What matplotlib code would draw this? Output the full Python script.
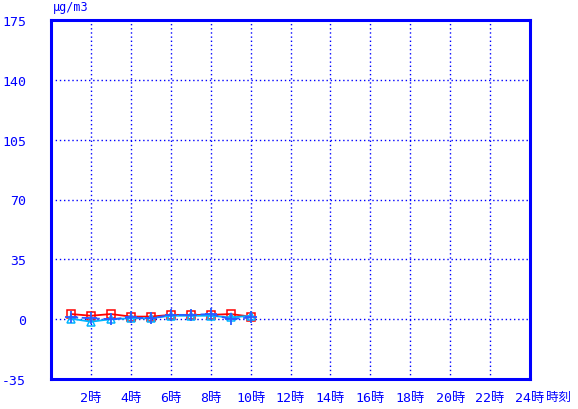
import matplotlib
matplotlib.use("Agg")
import matplotlib.pyplot as plt

plt.rcParams['font.family'] = ['DejaVu Sans Mono', 'Noto Sans CJK JP']

hours = [1, 2, 3, 4, 5, 6, 7, 8, 9, 10]
red_vals = [3, 2, 3, 1.5, 1.5, 2.5, 2.5, 2.5, 3, 1.5]
blue_vals = [1.2, 0.5, 0, 1, 0.5, 2.5, 2.5, 3, 0, 1]
cyan_vals = [0.3, -1.5, 0, 0.5, 0.5, 2, 2, 2, 1, 2]

yticks = [-35, 0, 35, 70, 105, 140, 175]
xticks = [2, 4, 6, 8, 10, 12, 14, 16, 18, 20, 22, 24]
xlabels = [f"{h}時" for h in xticks]

BLUE = '#0000ff'

fig = plt.figure(figsize=(5.78, 4.10), dpi=100)
ax = fig.add_axes([51/578, 1-380/410, (530-51)/578, (380-21)/410])

ax.plot(hours, red_vals, color='#ff0000', lw=1.3, marker='s', ms=5.5,
        mfc='none', mec='#ff0000', mew=1.1, zorder=3)
ax.plot(hours, blue_vals, color='#2a5cff', lw=1.3, ls=(0, (4, 2)), marker='+',
        ms=9, mec='#2a5cff', mew=1.3, zorder=4)
ax.plot(hours, cyan_vals, color='#00b4ff', lw=1.3, marker='^', ms=5.5,
        mfc='none', mec='#00b4ff', mew=1.1, zorder=3)

ax.set_xlim(0, 24)
ax.set_ylim(-35, 175)
ax.set_yticks(yticks)
ax.set_yticklabels([str(v) for v in yticks])
ax.set_xticks(xticks)
ax.set_xticklabels(xlabels)

for v in yticks[1:-1]:
    ax.axhline(v, color=BLUE, lw=1.0, ls=(0, (1, 2)), zorder=1)
for h in xticks[:-1]:
    ax.axvline(h, color=BLUE, lw=1.0, ls=(0, (1, 2)), zorder=1)

for s in ax.spines.values():
    s.set_color(BLUE)
    s.set_linewidth(2.2)

ax.tick_params(axis='both', length=0, colors=BLUE, labelsize=9.5)
ax.tick_params(axis='y', pad=18)
ax.tick_params(axis='x', pad=9)

fig.text(53/578, 1-7/410, "μg/m3", color=BLUE, fontsize=8.5, ha='left', va='center')
fig.text(546/578, 1-397/410, "時刻", color=BLUE, fontsize=9, ha='left', va='center',
         family=['Noto Sans CJK JP'])

fig.savefig("out.png", dpi=100)
